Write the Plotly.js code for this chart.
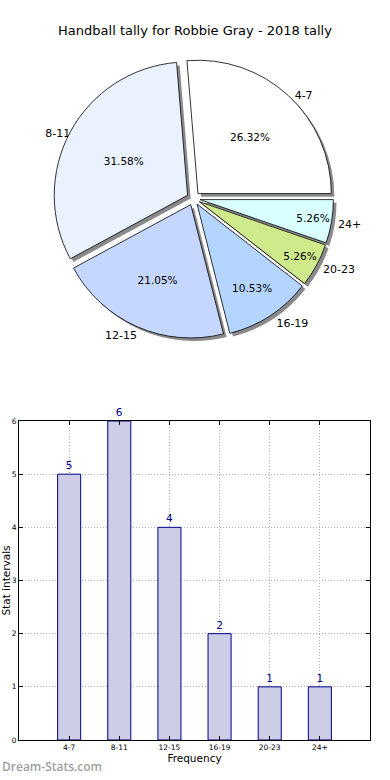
<!DOCTYPE html>
<html><head><meta charset="utf-8">
<script src="https://cdn.plot.ly/plotly-3.0.1.min.js"></script>
<style>html,body{margin:0;padding:0;background:#fff}#c{width:390px;height:780px}</style>
</head><body><div id="c"></div>
<script>
const categories = ['4-7','8-11','12-15','16-19','20-23','24+'];
const counts = [5, 6, 4, 2, 1, 1];
const sliceColors = ['#FFFFFF','#EAF1FF','#C5D7FF','#B4D5FF','#CFEA8B','#DAFFFF'];
const yTicks = [0,1,2,3,4,5,6];
const chartTitle = 'Handball tally for Robbie Gray - 2018 tally';

const total = counts.reduce((a, b) => a + b, 0);
// first slice starts at 3 o'clock going counterclockwise
const rot = 90 - 360 * counts[0] / total;
const pull = categories.map(() => 0.05);
const font = 'DejaVu Sans, sans-serif';

const shadow = {
  type: 'pie', labels: categories, values: counts, sort: false,
  direction: 'counterclockwise', rotation: rot, pull: pull,
  domain: {x: [0.008, 1.0], y: [0.562, 0.921]},
  marker: {colors: categories.map(() => '#8a8a8a'), line: {width: 0}},
  textposition: 'outside', texttemplate: '%{label}',
  textfont: {family: font, size: 11, color: '#000'},
  hoverinfo: 'skip', showlegend: false
};
const pie = {
  type: 'pie', labels: categories, values: counts, sort: false,
  direction: 'counterclockwise', rotation: rot, pull: pull,
  domain: {x: [0, 0.992], y: [0.566, 0.925]},
  marker: {colors: sliceColors, line: {color: '#000', width: 0.8}},
  textposition: 'inside', insidetextorientation: 'horizontal',
  texttemplate: '%{percent:.2%}',
  textfont: {family: font, size: 10.5, color: '#000'},
  showlegend: false
};
const bars = {
  type: 'bar', x: categories, y: counts, xaxis: 'x', yaxis: 'y',
  width: 0.46,
  marker: {color: '#CDCDE6', line: {color: '#00008B', width: 1}},
  text: counts.map(String), textposition: 'outside', cliponaxis: false,
  textfont: {family: font, size: 10.5, color: '#00008B'},
  showlegend: false
};

const gridStyle = {showgrid: true, gridcolor: '#b0b0b0', griddash: '1px,2px', gridwidth: 1};

const layout = {
  width: 390, height: 780,
  margin: {l: 0, r: 0, t: 0, b: 0},
  paper_bgcolor: '#fff', plot_bgcolor: '#fff',
  font: {family: font, color: '#000'},
  title: {text: chartTitle, x: 0.5, xanchor: 'center', y: 1 - 30/780, yanchor: 'middle',
          font: {family: font, size: 13, color: '#000'}},
  xaxis: Object.assign({
    domain: [19/390, 370/390], anchor: 'y', range: [-1, 6],
    type: 'category', showline: true, mirror: 'ticks', linecolor: '#000', linewidth: 1,
    ticks: 'inside', ticklen: 4, tickcolor: '#000',
    tickfont: {family: font, size: 7.5}, zeroline: false,
    title: {text: 'Frequency', font: {family: font, size: 10.5}, standoff: 2}
  }, gridStyle),
  yaxis: Object.assign({
    domain: [40/780, 359/780], anchor: 'x', range: [0, 6],
    tickvals: yTicks, showline: true, mirror: 'ticks', linecolor: '#000', linewidth: 1,
    ticks: 'inside', ticklen: 4, tickcolor: '#000',
    tickfont: {family: font, size: 7.5}, zeroline: false,
    title: {text: 'Stat intervals', font: {family: font, size: 10.5}, standoff: 2}
  }, gridStyle),
  annotations: [{
    text: 'Dream-Stats.com', xref: 'paper', yref: 'paper', x: 0, y: 3/780,
    xanchor: 'left', yanchor: 'bottom', showarrow: false,
    font: {family: 'Open Sans, sans-serif', size: 12, weight: 600, color: '#a0a0a0'}
  }]
};

Plotly.newPlot('c', [shadow, pie, bars], layout, {displayModeBar: false, staticPlot: true});
</script></body></html>
